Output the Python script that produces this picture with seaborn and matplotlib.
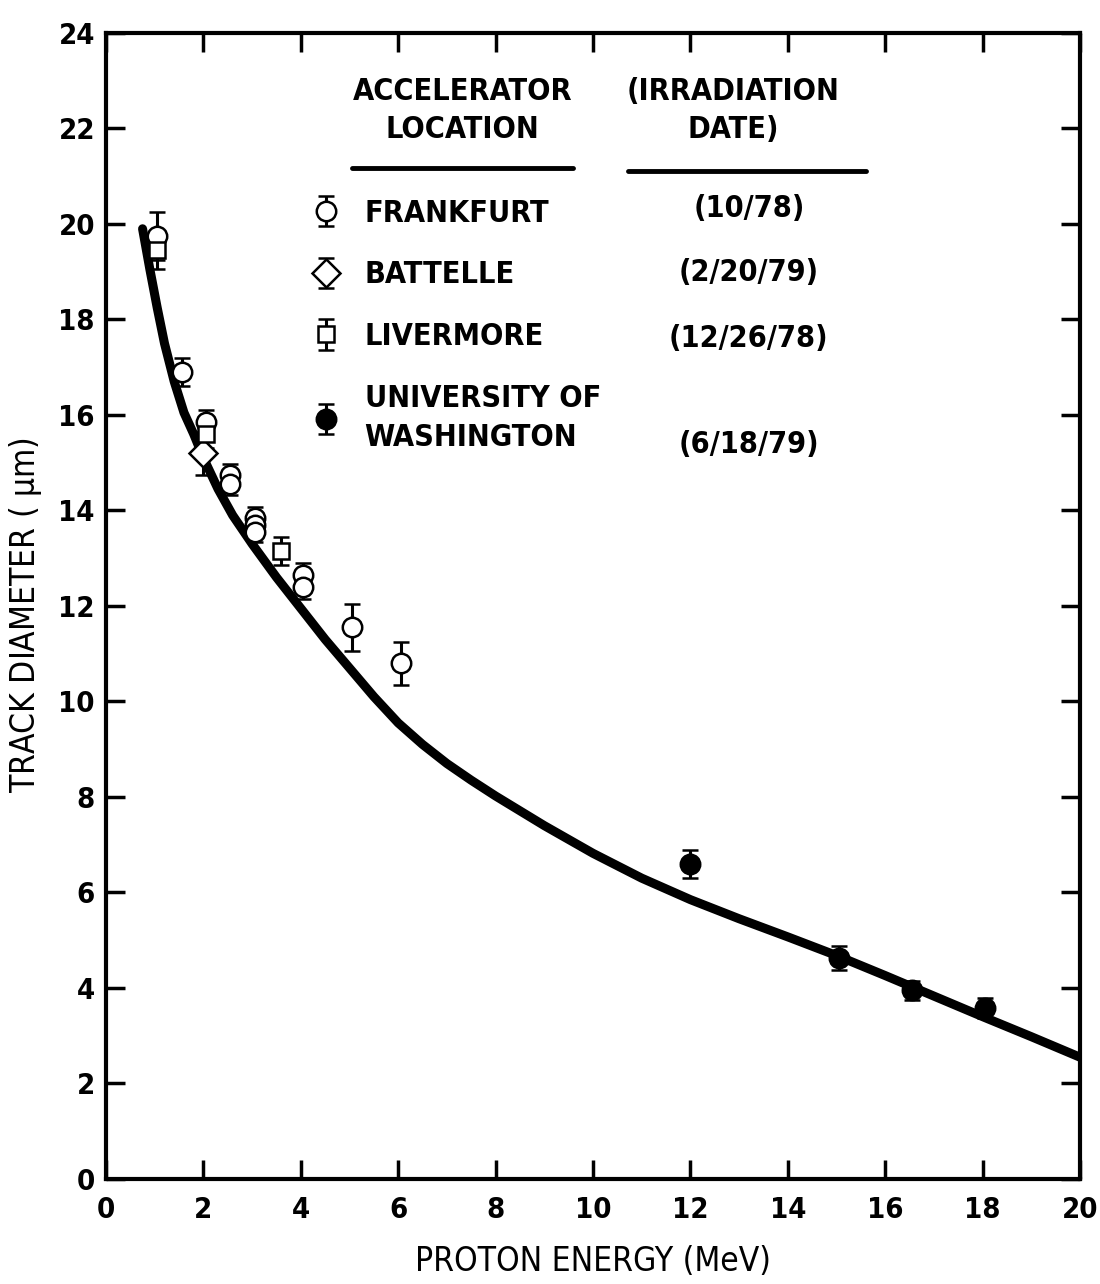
import numpy as np
import pandas as pd
import seaborn as sns
import matplotlib
matplotlib.use('Agg')
import matplotlib.pyplot as plt

# theory curve
curve_x = [0.75, 0.9, 1.05, 1.2, 1.4, 1.6, 1.8, 2.0, 2.3, 2.6, 3.0, 3.5, 4.0, 4.5,
           5.0, 5.5, 6.0, 6.5, 7.0, 7.5, 8.0, 9.0, 10.0, 11.0, 12.0, 13.0, 14.0,
           15.0, 16.0, 17.0, 18.0, 19.0, 20.0]
curve_y = [19.9, 19.05, 18.25, 17.5, 16.7, 16.05, 15.6, 15.1, 14.45, 13.9, 13.3,
           12.6, 11.95, 11.3, 10.7, 10.1, 9.55, 9.1, 8.7, 8.35, 8.02, 7.4, 6.82,
           6.3, 5.85, 5.45, 5.07, 4.68, 4.26, 3.83, 3.4, 2.98, 2.55]

# measurements
frank_x = [1.05, 1.55, 2.05, 2.55, 2.55, 3.05, 3.05, 3.05, 4.05, 4.05, 5.05, 6.05]
frank_y = [19.75, 16.9, 15.85, 14.75, 14.55, 13.85, 13.7, 13.55, 12.65, 12.4, 11.55, 10.8]
frank_err = [0.5, 0.3, 0.25, 0.22, 0.22, 0.22, 0.22, 0.22, 0.25, 0.25, 0.5, 0.45]

batt_x = [2.0]
batt_y = [15.2]
batt_err = [0.45]

liver_x = [1.05, 2.05, 3.6]
liver_y = [19.45, 15.6, 13.15]
liver_err = [0.4, 0.3, 0.3]

uw_x = [12.0, 15.05, 16.55, 18.05]
uw_y = [6.6, 4.63, 3.95, 3.58]
uw_err = [0.3, 0.25, 0.2, 0.2]

names = ['FRANKFURT', 'BATTELLE', 'LIVERMORE', 'UNIVERSITY OF\nWASHINGTON']
dates = ['(10/78)', '(2/20/79)', '(12/26/78)', '(6/18/79)']

sns.set_theme(style='ticks')
plt.rcParams['font.family'] = ['DejaVu Sans']
plt.rcParams['font.stretch'] = 'condensed'
plt.rcParams['mathtext.default'] = 'regular'
plt.rcParams['text.color'] = 'black'
plt.rcParams['axes.labelcolor'] = 'black'
plt.rcParams['xtick.color'] = 'black'
plt.rcParams['ytick.color'] = 'black'
plt.rcParams['axes.edgecolor'] = 'black'

fig = plt.figure(figsize=(11, 12.84), dpi=100)
ax = fig.add_axes([0.0964, 0.0818, 0.8854, 0.8925])

curve = pd.DataFrame({'energy': curve_x, 'diameter': curve_y})
sns.lineplot(data=curve, x='energy', y='diameter', color='black', lw=6.5,
             sort=False, estimator=None, ax=ax, solid_capstyle='round',
             solid_joinstyle='round')

eb = dict(color='black', mec='black', mew=1.8, elinewidth=2.2, capsize=6,
          capthick=2.2, linestyle='none')
h1 = ax.errorbar(frank_x, frank_y, yerr=frank_err, fmt='o', ms=14, mfc='white', **eb)
h2 = ax.errorbar(batt_x, batt_y, yerr=batt_err, fmt='D', ms=14, mfc='white', **eb)
h3 = ax.errorbar(liver_x, liver_y, yerr=liver_err, fmt='s', ms=11, mfc='white', **eb)
h4 = ax.errorbar(uw_x, uw_y, yerr=uw_err, fmt='o', ms=14, mfc='black', **eb)

ax.set_xlim(0, 20)
ax.set_ylim(0, 24)
ax.set_xticks(np.arange(0, 21, 2))
ax.set_yticks(np.arange(0, 25, 2))
ax.tick_params(direction='in', length=14, width=2.5, top=True, right=True,
               labelsize=21)
ax.tick_params(axis='x', pad=12)
ax.tick_params(axis='y', pad=8)
for lab in ax.get_xticklabels() + ax.get_yticklabels():
    lab.set_fontweight('bold')
for s in ax.spines.values():
    s.set_linewidth(3)
ax.set_xlabel('PROTON ENERGY (MeV)', fontsize=24)
ax.set_ylabel('TRACK DIAMETER ( $\\mu$m)', fontsize=24)
ax.xaxis.set_label_coords(0.5, -0.058)
ax.yaxis.set_label_coords(-0.064, 0.492)

leg = ax.legend([h1, h2, h3, h4], names, loc='upper left',
                bbox_to_anchor=(0.198, 0.866), frameon=False,
                prop={'size': 22, 'weight': 'bold'},
                handletextpad=0.75, labelspacing=1.07, handlelength=1.0,
                borderaxespad=0)
for t in leg.get_texts():
    t.set_linespacing(1.45)

ax.text(0.366, 0.962, 'ACCELERATOR\nLOCATION', transform=ax.transAxes,
        ha='center', va='top', fontsize=22, fontweight='bold', linespacing=1.4)
ax.text(0.644, 0.962, '(IRRADIATION\nDATE)', transform=ax.transAxes,
        ha='center', va='top', fontsize=22, fontweight='bold', linespacing=1.4)
ax.plot([0.2526, 0.4795], [0.882, 0.882], transform=ax.transAxes, color='black', lw=3.5)
ax.plot([0.536, 0.780], [0.8796, 0.8796], transform=ax.transAxes, color='black', lw=3.5)

date_y = [0.847, 0.791, 0.733, 0.641]
for d, yy in zip(dates, date_y):
    ax.text(0.66, yy, d, transform=ax.transAxes, ha='center', va='center',
            fontsize=22, fontweight='bold')

fig.savefig('out.png', dpi=100)
